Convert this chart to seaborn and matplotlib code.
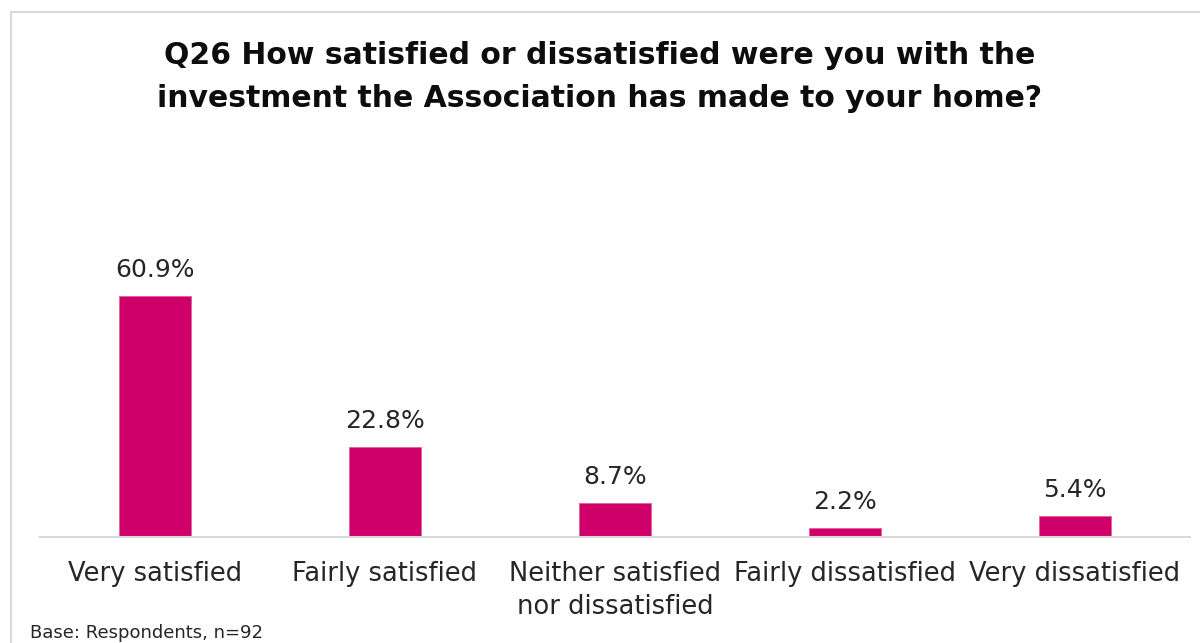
import matplotlib
matplotlib.use("Agg")
import matplotlib.pyplot as plt
import matplotlib.patches as mpatches
import seaborn as sns
import pandas as pd

categories = ["Very satisfied", "Fairly satisfied", "Neither satisfied\nnor dissatisfied",
              "Fairly dissatisfied", "Very dissatisfied"]
values = [60.9, 22.8, 8.7, 2.2, 5.4]
value_labels = ["60.9%", "22.8%", "8.7%", "2.2%", "5.4%"]
title = "Q26 How satisfied or dissatisfied were you with the\ninvestment the Association has made to your home?"
base_note = "Base: Respondents, n=92"

sns.set_theme(style="white")
plt.rcParams["font.family"] = ["DejaVu Sans"]

W, H = 1200, 643
fig = plt.figure(figsize=(W / 100, H / 100), dpi=100)

# light frame around the chart area
frame = mpatches.Rectangle((11 / W, -0.1), 1.2, 1 - 12 / H + 0.1, transform=fig.transFigure,
                           fill=False, edgecolor="#d9d9d9", linewidth=1.5)
fig.patches.append(frame)

ax_left, ax_right = 40 / W, 1190 / W
ax_bottom, ax_top = (H - 537) / H, (H - 160) / H
ax = fig.add_axes([ax_left, ax_bottom, ax_right - ax_left, ax_top - ax_bottom])

df = pd.DataFrame({"category": categories, "value": values})
sns.barplot(data=df, x="category", y="value", color="#D0006A", saturation=1,
            width=0.313, ax=ax, edgecolor="#e0609a", linewidth=0.6)

ax.set_ylim(0, 377 / 3.96)
ax.set_xlim(-0.5, len(categories) - 0.5)
for spine in ["top", "right", "left"]:
    ax.spines[spine].set_visible(False)
ax.spines["bottom"].set_color("#d9d9d9")
ax.spines["bottom"].set_linewidth(1.5)
ax.set_yticks([])
ax.set_xlabel("")
ax.set_ylabel("")
ax.tick_params(axis="x", length=0, pad=17, labelsize=18.5, labelcolor="#262626")
for lbl in ax.get_xticklabels():
    lbl.set_verticalalignment("top")
    lbl.set_linespacing(1.35)

for i, (v, t) in enumerate(zip(values, value_labels)):
    ax.annotate(t, (i, v), xytext=(0, 10), textcoords="offset points",
                ha="center", va="bottom", fontsize=18, color="#262626")

fig.text(0.5, (H - 77) / H, title, ha="center", va="center", fontsize=21.5,
         fontweight="bold", color="#0d0d0d", linespacing=1.6)

fig.text(30 / W, 1 / H, base_note, ha="left", va="bottom", fontsize=13, color="#262626")

fig.savefig("out.png", dpi=100, facecolor="white")
